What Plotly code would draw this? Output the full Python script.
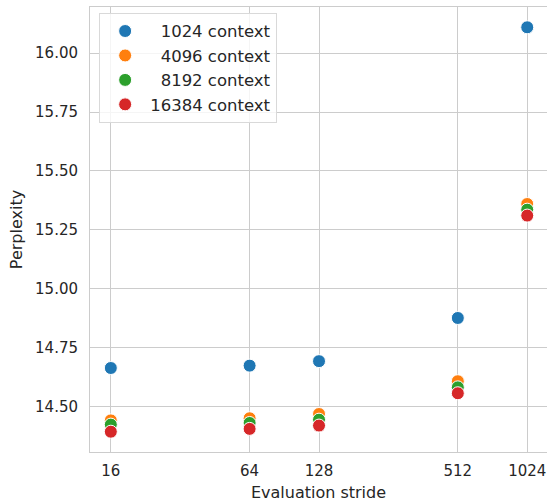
import math
import plotly.graph_objects as go

# Evaluation strides (x) and perplexity per context length
strides = [16, 64, 128, 512, 1024]
contexts = ["1024", "4096", "8192", "16384"]
ppl_1024 = [14.665, 14.675, 14.694, 14.877, 16.109]
ppl_4096 = [14.443, 14.452, 14.470, 14.609, 15.360]
ppl_8192 = [14.425, 14.432, 14.446, 14.583, 15.336]
ppl_16384 = [14.395, 14.407, 14.421, 14.558, 15.311]

series = [ppl_1024, ppl_4096, ppl_8192, ppl_16384]
colors = ["#1f77b4", "#ff7f0e", "#2ca02c", "#d62728"]
tick_vals = [16, 64, 128, 512, 1024]
tick_text = ["16", "64", "128", "512", "1024"]

font_family = "DejaVu Sans"
text_color = "#262626"
grid_color = "#cccccc"

fig = go.Figure()
for ctx, vals, col in zip(contexts, series, colors):
    pad = "\u00a0" * (2 * (5 - len(ctx)))
    fig.add_trace(go.Scatter(
        x=strides, y=vals, mode="markers", name=f"{pad}{ctx} context",
        marker=dict(size=13, color=col, line=dict(color="white", width=1)),
    ))

# x axis is log2-spaced; plotly log axes take ranges in log10 units
lo2, hi2 = 3.7, 10.285
fig.update_xaxes(
    type="log", range=[lo2 * math.log10(2), hi2 * math.log10(2)],
    tickvals=tick_vals, ticktext=tick_text,
    showgrid=True, gridcolor=grid_color, gridwidth=1,
    showline=True, linecolor=grid_color, linewidth=1, mirror=True,
    ticks="outside", ticklen=5, tickcolor="rgba(0,0,0,0)",
    zeroline=False,
    tickfont=dict(family=font_family, size=15, color=text_color),
    title=dict(text="Evaluation stride", standoff=9,
               font=dict(family=font_family, size=16, color=text_color)),
)
fig.update_yaxes(
    range=[14.309, 16.195],
    tickvals=[14.5, 14.75, 15.0, 15.25, 15.5, 15.75, 16.0],
    ticktext=["14.50", "14.75", "15.00", "15.25", "15.50", "15.75", "16.00"],
    showgrid=True, gridcolor=grid_color, gridwidth=1,
    showline=True, linecolor=grid_color, linewidth=1, mirror=True,
    ticks="outside", ticklen=8, tickcolor="rgba(0,0,0,0)",
    zeroline=False,
    tickfont=dict(family=font_family, size=15, color=text_color),
    title=dict(text="Perplexity", standoff=8,
               font=dict(family=font_family, size=16, color=text_color)),
)

fig.update_layout(
    width=547, height=502,
    margin=dict(l=90, r=0, t=7, b=50),
    paper_bgcolor="white", plot_bgcolor="white",
    font=dict(family=font_family, color=text_color),
    legend=dict(
        x=0.02, y=0.987, xanchor="left", yanchor="top",
        bgcolor="rgba(255,255,255,0.8)", bordercolor="#d9d9d9", borderwidth=1,
        itemwidth=40,
        font=dict(family=font_family, size=16.5, color=text_color),
    ),
)

fig.write_html("out.html")
